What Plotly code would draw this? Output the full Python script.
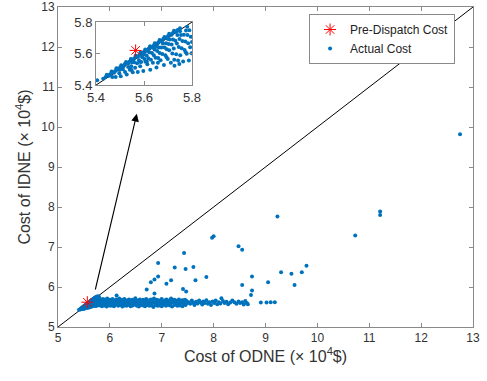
import plotly.graph_objects as go

# ---------------- data (units of 10^4 $) ----------------
# points close to the diagonal (region of the inset)
near_x = [5.405, 5.43, 5.44, 5.45, 5.46, 5.47, 5.48, 5.49, 5.50, 5.51, 5.52, 5.53, 5.54, 5.55,
          5.56, 5.57, 5.58, 5.59, 5.60, 5.61, 5.62, 5.63, 5.64, 5.65, 5.66, 5.67, 5.68, 5.69,
          5.70, 5.71, 5.72, 5.73, 5.74, 5.75,
          5.445, 5.465, 5.485, 5.505, 5.525, 5.545, 5.565, 5.585, 5.605, 5.625, 5.645, 5.665,
          5.685, 5.705, 5.725,
          5.455, 5.475, 5.495, 5.515, 5.535, 5.555, 5.575, 5.595, 5.615, 5.635, 5.655, 5.675,
          5.695, 5.715, 5.735, 5.745,
          5.50, 5.55, 5.60, 5.65, 5.70, 5.75, 5.78]
near_y = [5.43, 5.44, 5.452, 5.462, 5.47, 5.482, 5.49, 5.503, 5.512, 5.52, 5.533, 5.541, 5.55, 5.562,
          5.571, 5.582, 5.59, 5.603, 5.611, 5.62, 5.632, 5.641, 5.65, 5.662, 5.671, 5.68, 5.692, 5.70,
          5.711, 5.72, 5.731, 5.74, 5.75, 5.76,
          5.465, 5.486, 5.506, 5.526, 5.546, 5.566, 5.586, 5.606, 5.626, 5.646, 5.666, 5.686,
          5.705, 5.725, 5.745,
          5.459, 5.479, 5.499, 5.519, 5.539, 5.559, 5.579, 5.599, 5.619, 5.639, 5.659, 5.679,
          5.699, 5.719, 5.739, 5.751,
          5.497, 5.545, 5.594, 5.644, 5.693, 5.742, 5.77]

# points below the diagonal in the inset region
below_x = [5.468, 5.482, 5.497, 5.503, 5.512, 5.521, 5.528, 5.534, 5.541, 5.547, 5.553, 5.559,
           5.563, 5.571, 5.574, 5.579, 5.584, 5.588, 5.593, 5.597, 5.602, 5.606, 5.611, 5.614,
           5.618, 5.622, 5.626, 5.629, 5.633, 5.637, 5.641, 5.644, 5.648, 5.652, 5.655, 5.659,
           5.662, 5.665, 5.669, 5.672, 5.676, 5.679, 5.683, 5.686, 5.689, 5.692, 5.695, 5.699,
           5.702, 5.705, 5.708, 5.712, 5.715, 5.718, 5.721, 5.724, 5.727, 5.731, 5.734, 5.737,
           5.739, 5.742, 5.745, 5.748, 5.751, 5.754, 5.757, 5.760, 5.763, 5.766, 5.769, 5.772,
           5.775, 5.778, 5.781, 5.784, 5.787, 5.789, 5.792, 5.795, 5.798, 5.800, 5.726, 5.694,
           5.658, 5.747, 5.774, 5.612, 5.583, 5.548]
below_y = [5.452, 5.451, 5.475, 5.456, 5.500, 5.483, 5.467, 5.515, 5.497, 5.520, 5.481, 5.545,
           5.510, 5.538, 5.483, 5.558, 5.520, 5.547, 5.576, 5.489, 5.566, 5.548, 5.587, 5.532,
           5.571, 5.609, 5.497, 5.561, 5.604, 5.541, 5.589, 5.626, 5.574, 5.511, 5.616, 5.572,
           5.639, 5.604, 5.557, 5.638, 5.597, 5.664, 5.527, 5.638, 5.590, 5.666, 5.628, 5.566,
           5.660, 5.621, 5.689, 5.541, 5.658, 5.600, 5.690, 5.632, 5.522, 5.682, 5.596, 5.664,
           5.717, 5.556, 5.641, 5.693, 5.590, 5.718, 5.633, 5.679, 5.550, 5.719, 5.622, 5.677,
           5.747, 5.599, 5.718, 5.666, 5.556, 5.748, 5.640, 5.707, 5.602, 5.673, 5.561, 5.576,
           5.541, 5.534, 5.608, 5.550, 5.548, 5.496]

# dense horizontal band (three rows)
band_xa = [5.82, 5.84, 5.86, 5.88, 5.90, 5.93, 5.95, 5.97, 6.00, 6.02, 6.05, 6.07, 6.10, 6.12,
           6.15, 6.18, 6.20, 6.23, 6.26, 6.28, 6.31, 6.34, 6.37, 6.40, 6.43, 6.46, 6.49, 6.52,
           6.55, 6.58, 6.61, 6.64, 6.67, 6.70, 6.73, 6.76, 6.79, 6.82, 6.85, 6.88, 6.91, 6.94,
           6.97, 7.00, 7.03, 7.06, 7.09, 7.12, 7.15, 7.18, 7.21, 7.24, 7.27, 7.30, 7.33, 7.36,
           7.39, 7.42, 7.45, 7.48]
band_ya = [5.68, 5.66, 5.70, 5.67, 5.69, 5.65, 5.71, 5.66, 5.68, 5.64, 5.70, 5.67, 5.65, 5.69,
           5.66, 5.71, 5.64, 5.68, 5.66, 5.70, 5.65, 5.67, 5.69, 5.64, 5.68, 5.66, 5.72, 5.65,
           5.67, 5.69, 5.64, 5.68, 5.66, 5.70, 5.65, 5.67, 5.69, 5.64, 5.71, 5.66, 5.68, 5.65,
           5.67, 5.70, 5.64, 5.66, 5.69, 5.65, 5.67, 5.71, 5.64, 5.68, 5.66, 5.65, 5.69, 5.64,
           5.67, 5.66, 5.68, 5.65]
band_xb = [5.83, 5.85, 5.87, 5.89, 5.92, 5.94, 5.96, 5.99, 6.01, 6.04, 6.06, 6.09, 6.11, 6.14,
           6.16, 6.19, 6.22, 6.24, 6.27, 6.30, 6.33, 6.36, 6.39, 6.42, 6.45, 6.48, 6.51, 6.54,
           6.57, 6.60, 6.63, 6.66, 6.69, 6.72, 6.75, 6.78, 6.81, 6.84, 6.87, 6.90, 6.93, 6.96,
           6.99, 7.02, 7.05, 7.08, 7.11, 7.14, 7.17, 7.20, 7.23, 7.26, 7.29, 7.32, 7.35, 7.38,
           7.41, 7.44, 7.47, 7.50]
band_yb = [5.61, 5.59, 5.62, 5.58, 5.60, 5.63, 5.57, 5.61, 5.59, 5.62, 5.60, 5.58, 5.61, 5.63,
           5.59, 5.60, 5.62, 5.57, 5.61, 5.59, 5.63, 5.60, 5.58, 5.62, 5.60, 5.59, 5.61, 5.63,
           5.58, 5.60, 5.62, 5.59, 5.61, 5.57, 5.60, 5.62, 5.59, 5.61, 5.63, 5.58, 5.60, 5.62,
           5.59, 5.61, 5.60, 5.58, 5.62, 5.60, 5.59, 5.61, 5.63, 5.58, 5.60, 5.62, 5.59, 5.61,
           5.60, 5.58, 5.62, 5.60]
band_xc = [5.81, 5.85, 5.88, 5.91, 5.94, 5.98, 6.01, 6.05, 6.08, 6.12, 6.16, 6.20, 6.24, 6.28,
           6.32, 6.36, 6.40, 6.44, 6.48, 6.52, 6.56, 6.60, 6.64, 6.68, 6.72, 6.76, 6.80, 6.84,
           6.88, 6.92, 6.96, 7.00, 7.04, 7.08, 7.12, 7.16, 7.20, 7.25, 7.30, 7.35, 7.40, 7.46]
band_yc = [5.54, 5.52, 5.55, 5.53, 5.51, 5.55, 5.53, 5.54, 5.52, 5.56, 5.53, 5.55, 5.51, 5.54,
           5.53, 5.55, 5.52, 5.54, 5.56, 5.53, 5.51, 5.55, 5.54, 5.52, 5.55, 5.53, 5.54, 5.50,
           5.55, 5.53, 5.54, 5.52, 5.56, 5.53, 5.55, 5.54, 5.51, 5.55, 5.53, 5.54, 5.52, 5.55]

# sparser tail of the band
tail_x = [7.52, 7.55, 7.58, 7.61, 7.63, 7.66, 7.69, 7.72, 7.75, 7.78, 7.80, 7.83, 7.86, 7.89,
          7.92, 7.95, 7.98, 8.01, 8.04, 8.07, 8.10, 8.13, 8.18, 8.21, 8.25, 8.28, 8.32, 8.36,
          8.40, 8.44, 8.48, 8.51, 8.55, 8.58, 8.61, 8.64, 8.66, 8.91, 9.02, 9.10, 9.18]
tail_y = [5.62, 5.58, 5.66, 5.60, 5.55, 5.63, 5.59, 5.66, 5.61, 5.56, 5.64, 5.60, 5.67, 5.58,
          5.62, 5.55, 5.64, 5.60, 5.66, 5.57, 5.62, 5.59, 5.65, 5.60, 5.63, 5.57, 5.61, 5.66,
          5.62, 5.58, 5.64, 5.60, 5.62, 5.56, 5.65, 5.60, 5.57, 5.61, 5.61, 5.62, 5.62]

# scattered outliers
out_x = [6.13, 6.71, 6.79, 6.86, 6.86, 6.93, 6.93, 7.09, 7.18, 7.25, 7.41, 7.47, 7.43, 7.46,
         7.61, 7.65, 7.86, 7.97, 8.00, 8.15, 8.48, 8.55, 8.55, 8.74, 8.74, 8.72, 9.05, 9.30,
         9.50, 9.56, 9.70, 9.79, 9.23, 12.75, 11.21, 11.21, 10.73]
out_y = [5.79, 5.94, 6.12, 6.19, 5.84, 6.60, 6.26, 6.08, 6.17, 6.49, 5.95, 5.89, 6.85, 6.45,
         6.50, 6.17, 6.25, 7.23, 7.27, 5.72, 7.02, 6.93, 6.05, 6.26, 5.91, 5.80, 6.12, 6.37,
         6.33, 6.05, 6.37, 6.53, 7.76, 9.82, 7.89, 7.80, 7.29]

# pre-dispatch cost
pre_x = [5.565]
pre_y = [5.62]

main_ticks = [5, 6, 7, 8, 9, 10, 11, 12, 13]
inset_ticks = [5.4, 5.6, 5.8]

# ---------------- figure ----------------
act_x = near_x + below_x + band_xa + band_xb + band_xc + tail_x + out_x
act_y = near_y + below_y + band_ya + band_yb + band_yc + tail_y + out_y

BLUE = "#0072BD"
AX = "#8a8a8a"
TXT = "#333333"
FONT = "Liberation Sans, Arial, sans-serif"

fig = go.Figure()

# main axes
fig.add_trace(go.Scatter(x=[5, 13], y=[5, 13], mode="lines",
                         line=dict(color="black", width=1), showlegend=False,
                         hoverinfo="skip", xaxis="x", yaxis="y"))
fig.add_trace(go.Scatter(x=act_x, y=act_y, mode="markers", name="Actual Cost",
                         marker=dict(color=BLUE, size=4, line=dict(width=0)),
                         xaxis="x", yaxis="y"))
fig.add_trace(go.Scatter(x=pre_x, y=pre_y, mode="markers", name="Pre-Dispatch Cost",
                         marker=dict(symbol="asterisk-open", size=10, color="red",
                                     line=dict(color="red", width=1)),
                         xaxis="x", yaxis="y"))

# inset axes
fig.add_trace(go.Scatter(x=[5.4, 5.8], y=[5.4, 5.8], mode="lines",
                         line=dict(color="black", width=1), showlegend=False,
                         hoverinfo="skip", xaxis="x2", yaxis="y2"))
fig.add_trace(go.Scatter(x=act_x, y=act_y, mode="markers", showlegend=False,
                         marker=dict(color=BLUE, size=4, line=dict(width=0)),
                         xaxis="x2", yaxis="y2"))
fig.add_trace(go.Scatter(x=pre_x, y=pre_y, mode="markers", showlegend=False,
                         marker=dict(symbol="asterisk-open", size=10, color="red",
                                     line=dict(color="red", width=1)),
                         xaxis="x2", yaxis="y2"))

ax_common = dict(showline=True, linecolor=AX, linewidth=1, mirror="ticks",
                 ticks="inside", ticklen=4, tickcolor=AX, showgrid=False,
                 zeroline=False, automargin=False,
                 tickfont=dict(size=12, color=TXT, family=FONT))

fig.update_layout(
    template="none",
    width=487, height=381,
    margin=dict(l=58, r=14, t=7, b=54),
    paper_bgcolor="white", plot_bgcolor="white",
    font=dict(family=FONT, color=TXT),
    xaxis=dict(range=[5, 13], tickvals=main_ticks, domain=[0, 1], anchor="y",
               title=dict(text="Cost of ODNE (× 10<sup>4</sup>$)", font=dict(size=16, color=TXT),
                          standoff=3),
               **ax_common),
    yaxis=dict(range=[5, 13], tickvals=main_ticks, domain=[0, 1], anchor="x",
               title=dict(text="Cost of IDNE (× 10<sup>4</sup>$)", font=dict(size=16, color=TXT),
                          standoff=6),
               **ax_common),
    xaxis2=dict(range=[5.4, 5.8], tickvals=inset_ticks, domain=[0.0916, 0.3229], anchor="y2",
                **{**ax_common, "tickfont": dict(size=13, color=TXT, family=FONT)}),
    yaxis2=dict(range=[5.4, 5.8], tickvals=inset_ticks, domain=[0.756, 0.953], anchor="x2",
                **{**ax_common, "tickfont": dict(size=13, color=TXT, family=FONT)}),
    legend=dict(x=0.605, y=0.9, xanchor="left", yanchor="middle",
                bgcolor="white", bordercolor=AX, borderwidth=1,
                font=dict(size=12, color="#222222", family=FONT),
                traceorder="reversed", tracegroupgap=0,
                itemwidth=30),
    annotations=[dict(x=6.52, y=10.33, ax=5.713, ay=5.9, xref="x", yref="y",
                      axref="x", ayref="y", text="", showarrow=True,
                      arrowhead=2, arrowsize=1.4, arrowwidth=1.1, arrowcolor="black")],
    showlegend=True,
)

fig.write_html("out.html", config={"displayModeBar": False},
               post_script="document.body.style.margin='0';document.body.style.padding='0';")
